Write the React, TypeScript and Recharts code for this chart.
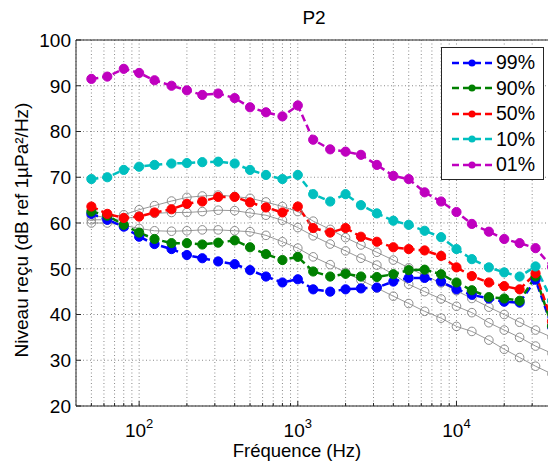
import React from 'react';
import { LineChart, Line, XAxis, YAxis, CartesianGrid, ReferenceLine } from 'recharts';

// third-octave band centres (Hz)
const freqs = [
  50, 63, 80, 100, 125, 160, 200, 250, 315, 400, 500, 630, 800, 1000, 1250, 1600, 2000, 2500,
  3150, 4000, 5000, 6300, 8000, 10000, 12500, 16000, 20000, 25000, 31500, 40000,
];

// percentiles of received level (dB ref 1µPa²/Hz)
const p99 = [
  62.0, 60.7, 59.2, 57.0, 55.4, 54.3, 53.0, 52.3, 51.6, 51.0, 49.7, 48.3, 47.0, 47.7, 45.5, 45.0, 45.5, 45.7,
  45.9, 47.2, 48.0, 48.0, 47.2, 45.5, 44.3, 43.5, 42.8, 42.6, 47.6, 37.3,
];
const p90 = [
  62.5, 61.6, 59.6, 57.9, 56.5, 55.6, 55.6, 55.3, 55.7, 56.2, 54.7, 53.2, 51.9, 52.6, 49.4, 48.3, 48.9, 48.3,
  48.2, 48.8, 49.7, 49.8, 48.8, 47.0, 45.3, 43.8, 43.5, 43.0, 48.3, 37.5,
];
const p50 = [
  63.6, 62.0, 61.1, 61.4, 62.3, 63.0, 64.2, 64.7, 65.7, 65.7, 64.5, 63.4, 62.3, 63.6, 58.9, 57.9, 58.9, 57.0,
  55.9, 54.7, 54.3, 54.0, 52.8, 50.3, 48.4, 47.0, 46.2, 45.5, 49.0, 38.5,
];
const p10 = [
  69.6, 70.0, 71.6, 72.3, 72.7, 73.0, 73.1, 73.3, 73.4, 73.0, 71.6, 70.5, 69.6, 70.5, 66.3, 64.7, 66.3, 63.9,
  62.1, 60.5, 59.6, 58.3, 56.9, 54.3, 52.1, 50.3, 49.2, 48.3, 50.5, 43.0,
];
const p01 = [
  91.5, 92.0, 93.7, 92.8, 91.2, 90.0, 89.0, 88.0, 88.3, 87.3, 85.3, 84.2, 83.3, 85.7, 78.2, 76.1, 75.6, 74.9,
  72.7, 70.3, 69.6, 66.7, 64.7, 62.4, 59.8, 58.1, 56.5, 55.6, 54.5, 50.4,
];

// grey reference curves (open circles)
const ref1 = [
  61.5, 61.3, 61.8, 62.9, 63.8, 64.8, 65.6, 65.9, 66.1, 65.8, 65.4, 64.6, 63.6, 62.5, 60.4, 58.6, 56.8, 55.2,
  53.6, 51.9, 50.2, 48.5, 46.9, 45.2, 43.5, 41.6, 40.0, 38.3, 36.6, 35.0,
];
const ref2 = [
  60.7, 60.7, 60.9, 61.5, 62.1, 62.3, 62.3, 62.5, 62.8, 62.7, 62.2, 61.7, 60.6, 59.0, 57.2, 55.4, 53.9, 52.3,
  50.8, 48.8, 46.6, 45.0, 43.4, 41.8, 40.4, 38.2, 36.6, 35.0, 33.1, 31.5,
];
const ref3 = [
  60.0, 60.0, 59.5, 58.8, 58.3, 58.2, 58.3, 58.5, 58.5, 58.3, 58.1, 57.3, 55.9, 54.5, 52.6, 50.9, 49.2, 47.5,
  45.8, 44.0, 42.4, 40.7, 39.2, 37.4, 36.3, 34.4, 32.4, 30.6, 28.7, 27.0,
];

const gridFreqs = [
  50, 60, 70, 80, 90, 100, 200, 300, 400, 500, 600, 700, 800, 900, 1000, 2000, 3000, 4000, 5000, 6000, 7000,
  8000, 9000, 10000, 20000, 30000, 40000,
];
const yTicks = [20, 30, 40, 50, 60, 70, 80, 90, 100];

const series = [
  { key: 'p99', name: '99%', color: '#0000ff', values: p99 },
  { key: 'p90', name: '90%', color: '#008000', values: p90 },
  { key: 'p50', name: '50%', color: '#ff0000', values: p50 },
  { key: 'p10', name: '10%', color: '#00bfbf', values: p10 },
  { key: 'p01', name: '01%', color: '#bf00bf', values: p01 },
];
const refs = [
  { key: 'ref1', values: ref1 },
  { key: 'ref2', values: ref2 },
  { key: 'ref3', values: ref3 },
];

const data = freqs.map((f, i) => {
  const row: Record<string, number> = { f };
  series.forEach((s) => (row[s.key] = s.values[i]));
  refs.forEach((r) => (row[r.key] = r.values[i]));
  return row;
});

const FONT = '"Liberation Sans", Arial, Helvetica, sans-serif';
const AXIS = '#262626';

// x tick: label only on decades, small inward tick mark on every grid line
const LogTick = (props: any) => {
  const { x, y, payload } = props;
  const axisY = y - 8;
  const e = Math.round(Math.log10(payload.value));
  const major = Math.abs(Math.pow(10, e) - payload.value) < 1e-6;
  return (
    <g>
      <line x1={x} x2={x} y1={axisY} y2={axisY - (major ? 5 : 3)} stroke={AXIS} />
      {major && (
        <text x={x} y={y + 23} textAnchor="middle" fontSize={19} fill="#000" fontFamily={FONT}>
          10
          <tspan dy={-9} fontSize={13}>
            {e}
          </tspan>
        </text>
      )}
    </g>
  );
};

const LevelTick = (props: any) => {
  const { x, y, payload } = props;
  const axisX = x + 5;
  return (
    <g>
      <line x1={axisX} x2={axisX + 5} y1={y} y2={y} stroke={AXIS} />
      <text x={x} y={y} dy="0.36em" textAnchor="end" fontSize={19} fill="#000" fontFamily={FONT}>
        {payload.value}
      </text>
    </g>
  );
};

const LegendBox = () => (
  <div
    style={{
      position: 'absolute',
      left: 441,
      top: 47,
      width: 101,
      height: 129,
      border: '1px solid ' + AXIS,
      background: '#fff',
      paddingTop: 2,
    }}
  >
    {series.map((s) => (
      <div key={s.key} style={{ display: 'flex', alignItems: 'center', height: 25.5 }}>
        <svg width={52} height={12} style={{ marginLeft: 10 }}>
          <line x1={0} y1={6} x2={42} y2={6} stroke={s.color} strokeWidth={2.5} strokeDasharray="7 4" />
          <circle cx={20} cy={6} r={3.5} fill={s.color} />
        </svg>
        <span style={{ fontSize: 19.5, fontFamily: FONT, color: '#000', marginLeft: -8 }}>{s.name}</span>
      </div>
    ))}
  </div>
);

export default function App() {
  return (
    <div
      style={{
        position: 'absolute',
        left: 0,
        top: 0,
        width: 548,
        height: 468,
        overflow: 'hidden',
        background: '#fff',
        fontFamily: FONT,
      }}
    >
      <LineChart width={560} height={468} data={data} margin={{ top: 40, right: 8, bottom: 0, left: 0 }}>
        <CartesianGrid stroke="#8a8a8a" strokeDasharray="1 2.5" />
        <XAxis
          dataKey="f"
          type="number"
          scale="log"
          domain={[40, 40000]}
          allowDataOverflow
          ticks={gridFreqs}
          interval={0}
          tick={<LogTick />}
          tickLine={false}
          tickSize={6}
          tickMargin={2}
          height={62}
          stroke={AXIS}
        />
        <YAxis
          type="number"
          domain={[20, 100]}
          ticks={yTicks}
          interval={0}
          width={76}
          tickLine={false}
          tickSize={3}
          tickMargin={2}
          tick={<LevelTick />}
          stroke={AXIS}
        />
        <ReferenceLine y={100} stroke={AXIS} />
        {refs.map((r) => (
          <Line
            key={r.key}
            dataKey={r.key}
            type="linear"
            stroke="#8c8c8c"
            strokeWidth={0.9}
            dot={{ r: 4.3, fill: 'none', stroke: '#8c8c8c', strokeWidth: 1 }}
            activeDot={false}
            legendType="none"
            isAnimationActive={false}
          />
        ))}
        {series.map((s) => (
          <Line
            key={s.key}
            dataKey={s.key}
            name={s.name}
            type="linear"
            stroke={s.color}
            strokeWidth={2.5}
            strokeDasharray="7 4"
            dot={{ r: 4.6, fill: s.color, stroke: s.color, strokeWidth: 1, strokeDasharray: 'none' }}
            activeDot={false}
            isAnimationActive={false}
          />
        ))}
      </LineChart>
      <LegendBox />
      <div
        style={{
          position: 'absolute',
          left: 264,
          width: 100,
          top: 7,
          textAlign: 'center',
          fontSize: 19,
          lineHeight: '22px',
        }}
      >
        P2
      </div>
      <div
        style={{
          position: 'absolute',
          left: 197,
          width: 200,
          top: 440,
          textAlign: 'center',
          fontSize: 18.5,
          lineHeight: '22px',
        }}
      >
        Fréquence (Hz)
      </div>
      <div
        style={{
          position: 'absolute',
          left: 22 - 160,
          top: 230 - 11,
          width: 320,
          textAlign: 'center',
          fontSize: 19,
          lineHeight: '22px',
          transform: 'rotate(-90deg)',
        }}
      >
        Niveau reçu (dB ref 1µPa²/Hz)
      </div>
    </div>
  );
}
